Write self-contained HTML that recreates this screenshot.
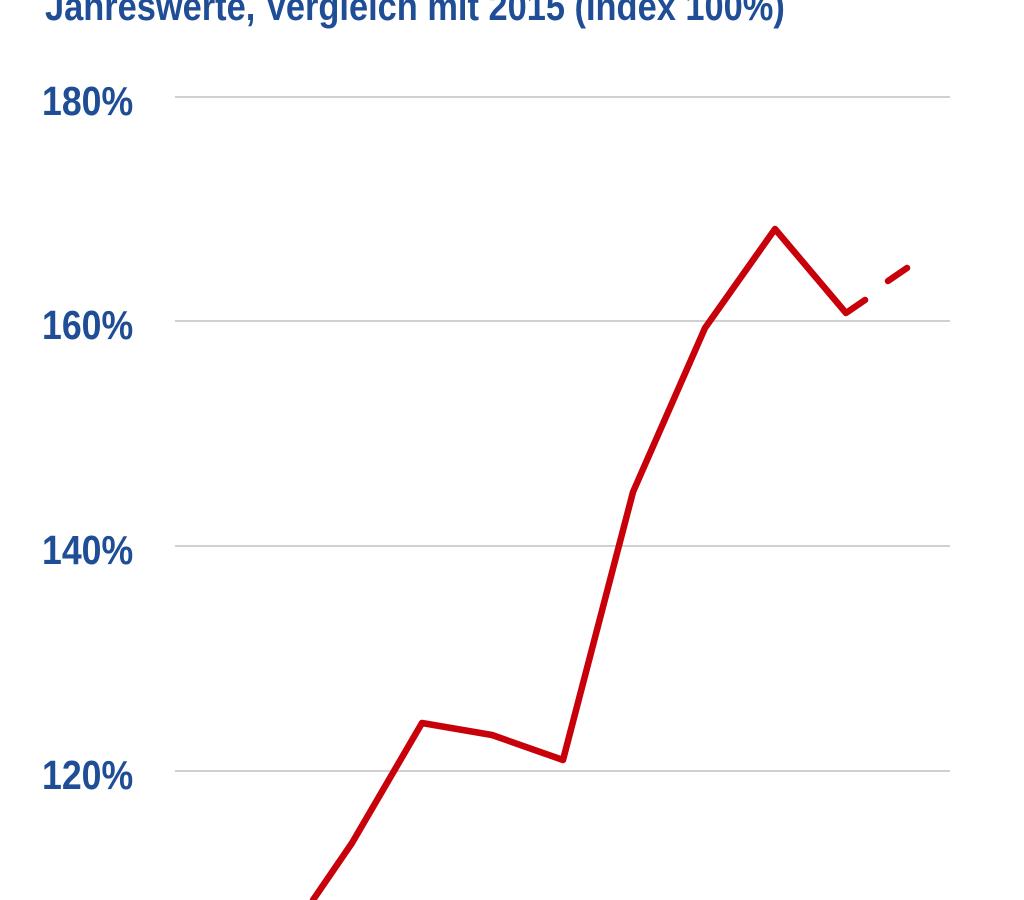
<!DOCTYPE html>
<html><head><meta charset="utf-8"><style>
html,body{margin:0;padding:0;background:#fff;width:1024px;height:900px;overflow:hidden}
</style></head><body>
<svg width="1024" height="900" xmlns="http://www.w3.org/2000/svg" style="display:block">
<text x="45" y="20" font-family="Liberation Sans, sans-serif" font-weight="bold" font-size="40" fill="#1f4e96" transform="translate(45 0) scale(0.86 1) translate(-45 0)">Jahreswerte, Vergleich mit 2015 (Index 100%)</text>
<g stroke="#d0d0d0" stroke-width="2">
<line x1="175" y1="97" x2="950" y2="97"/>
<line x1="175" y1="321" x2="950" y2="321"/>
<line x1="175" y1="546" x2="950" y2="546"/>
<line x1="175" y1="771" x2="950" y2="771"/>
</g>
<g font-family="Liberation Sans, sans-serif" font-weight="bold" font-size="41" fill="#1f4e96">
<text x="42" y="115" transform="translate(42 0) scale(0.87 1) translate(-42 0)">180%</text>
<text x="42" y="339" transform="translate(42 0) scale(0.87 1) translate(-42 0)">160%</text>
<text x="42" y="564" transform="translate(42 0) scale(0.87 1) translate(-42 0)">140%</text>
<text x="42" y="789" transform="translate(42 0) scale(0.87 1) translate(-42 0)">120%</text>
</g>
<g fill="none" stroke="#c8000a" stroke-width="6.5" stroke-linecap="round" stroke-linejoin="round">
<polyline points="313,900 352,843 422,723 492,735 563,760 633,492 705,328 775,229 846,313 865,300"/>
<line x1="888" y1="281" x2="907" y2="268"/>
</g>
</svg>
</body></html>
